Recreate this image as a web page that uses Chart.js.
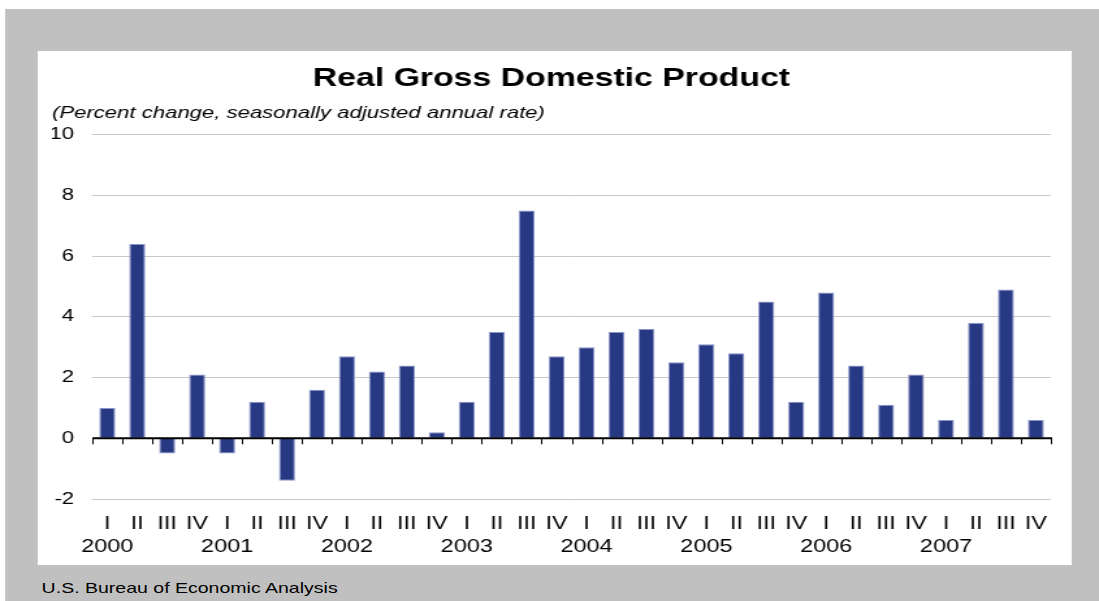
<!DOCTYPE html>
<html>
<head>
<meta charset="utf-8">
<script src="https://cdn.jsdelivr.net/npm/chart.js@4/dist/chart.umd.min.js"></script>
<style>
  html, body { margin: 0; padding: 0; background: #fff; }
  body { width: 1099px; height: 601px; overflow: hidden; position: relative; }
  /* the reference is drawn a bit wide, so the page is laid out narrow and stretched */
  #page { position: absolute; left: 0; top: 0; width: 845px; height: 601px;
          transform: scaleX(1.3006); transform-origin: 0 0; }
  #gray { position: absolute; left: 4px; top: 9px; width: 841px; height: 592px; background: #c0c0c0; }
  #gdp { position: absolute; left: 29px; top: 51px; background: #fff; }
  #source { position: absolute; left: 32px; top: 579px; font: 15px "Liberation Sans", Arial, sans-serif; color: #000; }
</style>
</head>
<body>
<div id="page">
  <div id="gray"></div>
  <canvas id="gdp" width="795" height="514"></canvas>
  <div id="source">U.S. Bureau of Economic Analysis</div>
</div>
<script>
// quarters 2000 Q1 .. 2007 Q4
const years = ['2000', '2001', '2002', '2003', '2004', '2005', '2006', '2007'];
const quarters = ['I', 'II', 'III', 'IV'];
const gdpChange = [
  1.0, 6.4, -0.5, 2.1,
  -0.5, 1.2, -1.4, 1.6,
  2.7, 2.2, 2.4, 0.2,
  1.2, 3.5, 7.5, 2.7,
  3.0, 3.5, 3.6, 2.5,
  3.1, 2.8, 4.5, 1.2,
  4.8, 2.4, 1.1, 2.1,
  0.6, 3.8, 4.9, 0.6
];
const yTicks = [-2, 0, 2, 4, 6, 8, 10];

let labels = [];
for (let y = 0; y < years.length; y++) {
  for (let q = 0; q < quarters.length; q++) {
    labels.push([quarters[q], q === 0 ? years[y] : '']);
  }
}

Chart.defaults.font.family = '"Liberation Sans", Arial, sans-serif';
Chart.defaults.color = '#000';

// black zero line with little tick marks between the quarters
const zeroAxis = {
  id: 'zeroAxis',
  afterDatasetsDraw(chart) {
    const ctx = chart.ctx;
    const xs = chart.scales.x, ys = chart.scales.y;
    const y0 = ys.getPixelForValue(0);
    const left = chart.chartArea.left, right = chart.chartArea.right;
    ctx.save();
    ctx.strokeStyle = '#000';
    ctx.lineWidth = 2;
    ctx.beginPath();
    ctx.moveTo(left, y0);
    ctx.lineTo(right + 1, y0);
    ctx.stroke();
    ctx.lineWidth = 1;
    ctx.beginPath();
    let marks = [left, right];
    for (let i = 1; i < gdpChange.length; i++) {
      marks.push((xs.getPixelForValue(i - 1) + xs.getPixelForValue(i)) / 2);
    }
    marks.forEach(function(m) {
      const px = Math.round(m) + 0.5;
      ctx.moveTo(px, y0);
      ctx.lineTo(px, y0 + 6);
    });
    ctx.stroke();
    ctx.restore();
  }
};

new Chart(document.getElementById('gdp'), {
  type: 'bar',
  data: {
    labels: labels,
    datasets: [{
      data: gdpChange,
      backgroundColor: '#283984',
      borderColor: '#8a94c8',
      borderWidth: 1,
      barPercentage: 0.535,
      categoryPercentage: 1
    }]
  },
  options: {
    responsive: false,
    animation: false,
    layout: { padding: { left: 11, right: 16, top: 0, bottom: 0 } },
    plugins: {
      legend: { display: false },
      tooltip: { enabled: false },
      title: {
        display: true,
        text: 'Real Gross Domestic Product',
        font: { size: 26, weight: 'bold' },
        color: '#000',
        padding: { top: 12, bottom: 4 }
      },
      subtitle: {
        display: true,
        text: '(Percent change, seasonally adjusted annual rate)',
        align: 'start',
        font: { size: 17, style: 'italic' },
        color: '#000',
        padding: { top: 5, bottom: 11 }
      }
    },
    scales: {
      x: {
        afterFit(scale) { scale.height = 66; },
        grid: { display: false, drawTicks: false },
        border: { display: false },
        ticks: {
          autoSkip: false,
          maxRotation: 0,
          padding: 14,
          font: { size: 18, lineHeight: 23 / 18 }
        }
      },
      y: {
        min: -2,
        max: 10,
        afterFit(scale) { scale.width = 31; },
        afterBuildTicks(scale) { scale.ticks = yTicks.map(v => ({ value: v })); },
        grid: {
          drawTicks: false,
          color: c => (c.tick && c.tick.value === 0) ? 'rgba(0,0,0,0)' : '#c8c8c8',
          lineWidth: 1
        },
        border: { display: false },
        ticks: { padding: 14, font: { size: 17 } }
      }
    }
  },
  plugins: [zeroAxis]
});
</script>
</body>
</html>
